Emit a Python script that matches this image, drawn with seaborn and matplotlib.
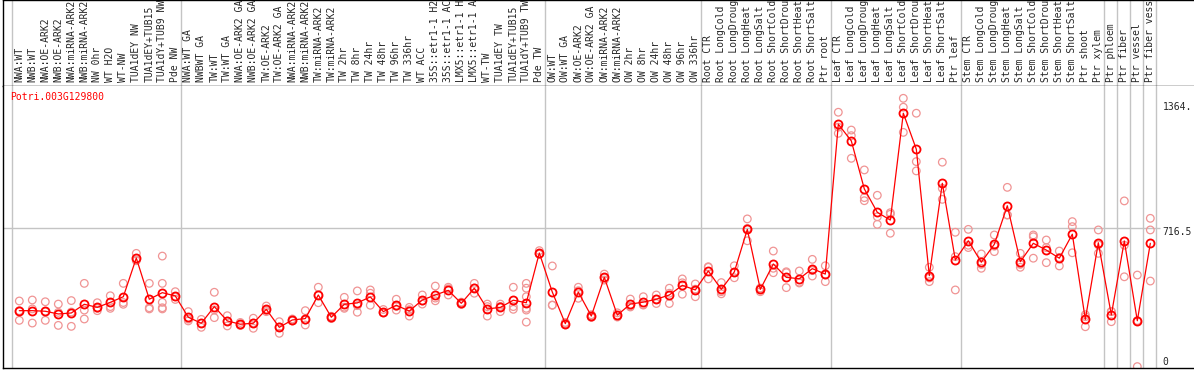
import matplotlib
matplotlib.use('Agg')
import matplotlib.pyplot as plt
import seaborn as sns
import pandas as pd

GENE = 'Potri.003G129800'

labels = [
    # NW
    'NWA:WT', 'NWB:WT', 'NWA:OE-ARK2', 'NWB:OE-ARK2', 'NWA:miRNA-ARK2', 'NWB:miRNA-ARK2',
    'NW 0hr', 'WT H2O', 'WT-NW', 'TUA1dEY NW', 'TUA1dEY+TUB15 NW', 'TUA1dY+TUB9 NW', 'Pde NW',
    # TW
    'NWA:WT GA', 'NWBWT GA', 'TW:WT', 'TW:WT GA', 'NWA:OE-ARK2 GA', 'NWB:OE-ARK2 GA',
    'TW:OE-ARK2', 'TW:OE-ARK2 GA', 'NWA:miRNA-ARK2 GA', 'NWB:miRNA-ARK2 GA', 'TW:miRNA-ARK2',
    'TW:miRNA-ARK2 GA', 'TW 2hr', 'TW 8hr', 'TW 24hr', 'TW 48hr', 'TW 96hr', 'TW 336hr', 'WT ACC',
    '35S::etr1-1 H2O', '35S::etr1-1 ACC', 'LMX5::etr1-1 H2O', 'LMX5::etr1-1 ACC', 'WT-TW',
    'TUA1dEY TW', 'TUA1dEY+TUB15 TW', 'TUA1dY+TUB9 TW', 'Pde TW',
    # OW
    'OW:WT', 'OW:WT GA', 'OW:OE-ARK2', 'OW:OE-ARK2 GA', 'OW:miRNA-ARK2', 'OW:miRNA-ARK2 GA',
    'OW 2hr', 'OW 8hr', 'OW 24hr', 'OW 48hr', 'OW 96hr', 'OW 336hr',
    # root
    'Root CTR', 'Root LongCold', 'Root LongDrought', 'Root LongHeat', 'Root LongSalt',
    'Root ShortCold', 'Root ShortDrought', 'Root ShortHeat', 'Root ShortSalt', 'Ptr root',
    # leaf
    'Leaf CTR', 'Leaf LongCold', 'Leaf LongDrought', 'Leaf LongHeat', 'Leaf LongSalt',
    'Leaf ShortCold', 'Leaf ShortDrought', 'Leaf ShortHeat', 'Leaf ShortSalt', 'Ptr leaf',
    # stem
    'Stem CTR', 'Stem LongCold', 'Stem LongDrought', 'Stem LongHeat', 'Stem LongSalt',
    'Stem ShortCold', 'Stem ShortDrought', 'Stem ShortHeat', 'Stem ShortSalt', 'Ptr shoot',
    'Ptr xylem', 'Ptr phloem', 'Ptr fiber', 'Ptr vessel', 'Ptr fiber vessel',
]

means = [
    291, 291, 288, 274, 279, 324, 308, 334, 363, 563, 350, 384, 367,
    257, 226, 312, 238, 221, 226, 298, 205, 243, 250, 372, 257, 324, 331, 362, 286, 319,
    289, 346, 372, 396, 329, 407, 300, 308, 345, 332, 589,
    387, 224, 387, 263, 463, 268, 325, 335, 350, 372, 422, 398,
    496, 401, 491, 711, 401, 532, 463, 456, 508, 480,
    1254, 1168, 920, 799, 759, 1311, 1125, 472, 949, 553,
    652, 541, 634, 833, 544, 639, 604, 562, 686, 246, 642,
    269, 651, 239, 639,
]

reps = [
    [341, 241, 291], [346, 227, 300], [337, 241, 286], [325, 215, 282], [343, 210, 284],
    [432, 294, 248], [332, 303, 291], [368, 312, 303], [432, 324, 333], [587, 549, 553],
    [432, 306, 300], [573, 432, 334, 306, 300], [389, 363, 349],
    [286, 238, 247], [246, 205, 226], [386, 255, 295], [265, 212, 237], [230, 219, 214],
    [252, 200, 226], [315, 286, 293], [234, 174, 207], [248, 238, 243], [291, 217, 242],
    [412, 332, 372], [262, 250, 259], [360, 303, 309], [393, 283, 317], [398, 381, 319],
    [297, 280, 281], [350, 294, 313], [308, 263, 296], [372, 325, 341], [418, 342, 356],
    [412, 372, 404], [335, 329, 323], [432, 381, 408], [325, 263, 312], [325, 286, 313],
    [412, 312, 298], [432, 407, 363, 303, 294, 232], [601, 583, 583],
    [522, 320, 319], [230, 218, 224], [412, 355, 394], [270, 256, 263], [480, 449, 460],
    [280, 258, 266], [351, 310, 314], [363, 320, 322], [372, 350, 328], [407, 381, 328],
    [455, 376, 435], [429, 363, 402],
    [518, 455, 515], [436, 389, 378], [523, 461, 489], [765, 652, 716], [407, 389, 407],
    [599, 487, 510], [492, 410, 487], [496, 438, 434], [556, 470, 498], [523, 441, 476],
    [1316, 1207, 1239], [1224, 1195, 1078], [1018, 875, 859], [887, 776, 737], [797, 691, 789],
    [1388, 1342, 1212], [1311, 1061, 1013], [515, 441, 460], [1058, 866, 923], [696, 570, 398],
    [711, 617, 629], [584, 510, 530], [682, 596, 624], [928, 785, 786], [587, 515, 530],
    [682, 562, 673], [656, 539, 617], [599, 522, 565], [751, 725, 590], [260, 208, 270],
    [708, 587, 631],
    [286, 234, 287], [858, 466, 629], [475, 2, 240], [768, 708, 444],
]

# sample index where each group starts (gray separators)
group_starts = [0, 13, 41, 53, 63, 73, 84, 85, 86, 87, 88]

scale_values = [1364, 716.5, 0]
scale_labels = ['1364.', '716.5', '0']

# the header only has room for 14 characters
MAX_CHARS = 14

mean_df = pd.DataFrame({'idx': range(len(means)), 'value': means})
rep_df = pd.DataFrame([(i, v) for i, vals in enumerate(reps) for v in vals], columns=['idx', 'value'])

sns.set_style('white')
plt.rcParams['font.family'] = ['DejaVu Sans Mono']

W, H = 1194, 370
fig = plt.figure(figsize=(W / 100, H / 100), dpi=100)


def px_box(x0, y0, x1, y1):
    return [x0 / W, 1 - y1 / H, (x1 - x0) / W, (y1 - y0) / H]


ax_lab = fig.add_axes(px_box(3, 0, 1194, 86))
ax = fig.add_axes(px_box(3, 86, 1194, 368), sharex=ax_lab)

x_lo, x_hi = -1.254, 90.36
ax.set_xlim(x_lo, x_hi)
ax.set_ylim(-5.2, 1451.6)
ax_lab.set_ylim(0, 1)

grid_col = '#c4c4c4'
for b in group_starts:
    ax.axvline(b - 0.6, color=grid_col, lw=1, zorder=0)
    ax_lab.axvline(b - 0.6, color=grid_col, lw=1, zorder=0)
ax.hlines(716.5, x_lo, len(means) - 0.25, color=grid_col, lw=1, zorder=0)

sns.scatterplot(data=rep_df, x='idx', y='value', ax=ax, marker='o', s=30,
                facecolor='none', edgecolor='#f09494', linewidth=0.9, zorder=2, legend=False)
sns.lineplot(data=mean_df, x='idx', y='value', ax=ax, color='red', lw=0.9, marker='o',
             markersize=5.8, markerfacecolor='none', markeredgecolor='red', markeredgewidth=1.3,
             sort=False, errorbar=None, zorder=3, legend=False)

# sample names, rotated
for i, lab in enumerate(labels):
    ax_lab.text(i, 0.045, lab[:MAX_CHARS].rstrip(), rotation=90, ha='center', va='bottom',
                fontsize=7, transform=ax_lab.get_xaxis_transform())

# scale labels on the right
offsets = {'1364.': -3, '716.5': -3, '0': 3.5}
for v, lab in zip(scale_values, scale_labels):
    ax.annotate(lab, xy=(len(means) - 0.05, v), xytext=(0, offsets[lab]), textcoords='offset points',
                ha='left', va='center', fontsize=7, annotation_clip=False)

ax.text(0.006, 0.962, GENE, color='red', fontsize=7, ha='left', va='center', transform=ax.transAxes)

for a in (ax, ax_lab):
    a.set_xticks([])
    a.set_yticks([])
    a.set_xlabel('')
    a.set_ylabel('')
    a.spines['right'].set_visible(False)
    for s in ('left', 'top', 'bottom'):
        a.spines[s].set_color('black')
        a.spines[s].set_linewidth(1.0)
ax.spines['top'].set_visible(False)

fig.savefig('out.png', dpi=100)
